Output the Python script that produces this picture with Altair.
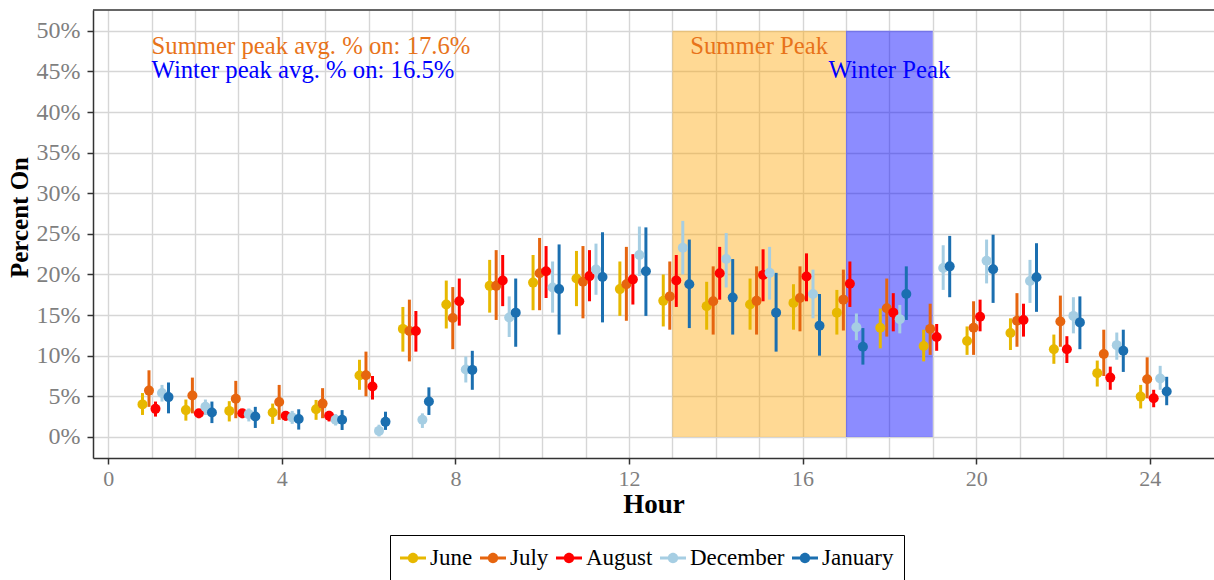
import altair as alt
import pandas as pd

# Hour of day (hour-ending) for each observation
HOURS = list(range(1, 25))
MONTHS = ["June", "July", "August", "December", "January"]

# Mean percent of units on, with lower / upper interval bounds, per hour
JUNE_MEAN = [4.0, 3.3, 3.2, 3.0, 3.4, 7.55, 13.3, 16.3, 18.6, 19.0, 19.5, 18.2,
             16.75, 16.1, 16.3, 16.5, 15.3, 13.45, 11.2, 11.8, 12.8, 10.8, 7.85, 4.96]
JUNE_LO = [2.7, 2.0, 1.9, 1.6, 2.1, 5.8, 10.5, 13.35, 15.3, 15.6, 16.1, 14.9,
           13.6, 13.2, 13.2, 13.2, 12.6, 10.9, 9.3, 10.1, 10.7, 9.0, 6.2, 3.5]
JUNE_HI = [5.4, 4.6, 4.4, 4.1, 4.55, 9.5, 16.0, 19.25, 21.8, 22.4, 22.9, 21.6,
           20.0, 19.1, 19.5, 18.8, 18.1, 15.8, 13.2, 13.6, 14.6, 12.6, 9.4, 6.4]

JULY_MEAN = [5.7, 5.1, 4.7, 4.3, 4.1, 7.6, 13.05, 14.65, 18.6, 20.15, 19.1, 18.8,
             17.3, 16.7, 16.75, 17.1, 16.9, 15.85, 13.3, 13.45, 14.3, 14.2, 10.2, 7.1]
JULY_LO = [3.7, 2.9, 2.3, 2.1, 2.3, 5.0, 9.3, 10.8, 14.4, 15.6, 14.6, 14.3,
           13.2, 12.6, 12.6, 13.0, 13.1, 12.35, 10.1, 10.1, 11.1, 11.1, 7.5, 4.75]
JULY_HI = [8.2, 7.3, 6.9, 6.4, 6.0, 10.5, 16.9, 18.45, 23.0, 24.5, 23.5, 23.4,
           21.6, 21.0, 21.0, 21.0, 20.6, 19.5, 16.4, 16.7, 17.7, 17.4, 13.2, 9.8]

AUGUST_MEAN = [3.45, 2.9, 2.9, 2.6, 2.6, 6.2, 13.05, 16.7, 19.25, 20.4, 19.8, 19.4,
               19.25, 20.15, 19.95, 19.75, 18.85, 15.3, 12.3, 14.8, 14.4, 10.8, 7.3, 4.75]
AUGUST_LO = [2.5, 2.3, 2.3, 2.0, 1.9, 4.6, 10.5, 13.7, 16.1, 17.1, 16.7, 16.3,
             16.0, 16.9, 16.7, 16.7, 16.0, 13.0, 10.6, 13.0, 12.35, 9.1, 5.8, 3.65]
AUGUST_HI = [4.35, 3.4, 3.3, 3.1, 3.2, 7.5, 15.5, 19.5, 22.4, 23.5, 23.0, 22.5,
             22.4, 23.4, 23.1, 22.6, 21.6, 17.7, 13.9, 16.9, 16.4, 12.4, 8.65, 5.8]

DECEMBER_MEAN = [5.4, 3.7, 2.8, 2.4, 2.1, 0.74, 2.1, 8.3, 14.7, 18.4, 20.6, 22.4,
                 23.3, 21.9, 20.2, 17.6, 13.5, 14.5, 20.8, 21.7, 19.2, 14.9, 11.3, 7.2]
DECEMBER_LO = [4.35, 2.7, 1.9, 1.6, 1.4, 0.05, 1.1, 6.7, 12.3, 15.3, 17.5, 19.8,
               20.0, 18.4, 16.9, 14.6, 11.9, 12.75, 18.1, 18.9, 16.5, 12.75, 9.5, 5.8]
DECEMBER_HI = [6.4, 4.6, 3.5, 3.2, 2.8, 1.5, 2.9, 9.9, 17.3, 21.6, 23.8, 25.9,
               26.6, 25.1, 23.4, 20.6, 15.2, 16.25, 23.6, 24.3, 21.8, 17.2, 12.85, 8.75]

JANUARY_MEAN = [4.9, 3.0, 2.5, 2.2, 2.1, 1.85, 4.35, 8.25, 15.3, 18.2, 19.7, 20.4,
                18.8, 17.15, 15.3, 13.7, 11.1, 17.6, 21.0, 20.65, 19.65, 14.1, 10.6, 5.6]
JANUARY_LO = [2.9, 1.7, 1.1, 0.9, 0.85, 0.86, 2.7, 5.8, 11.1, 12.6, 14.1, 14.9,
              13.4, 12.6, 10.5, 10.0, 8.9, 14.4, 17.2, 16.5, 15.4, 10.8, 8.0, 3.9]
JANUARY_HI = [6.7, 4.35, 3.7, 3.4, 3.3, 3.1, 6.1, 10.6, 19.5, 23.7, 25.2, 25.8,
              24.3, 21.9, 20.2, 17.6, 13.4, 21.0, 24.75, 24.9, 23.85, 17.3, 13.2, 7.4]

# Peak windows (hours) shaded on the chart
PEAK_NAMES = ["Summer Peak", "Winter Peak"]
PEAK_START = [13, 17]
PEAK_END = [17, 19]

SUMMER_NOTE = "Summer peak avg. % on: 17.6%"
WINTER_NOTE = "Winter peak avg. % on: 16.5%"

# ---- styling -------------------------------------------------------------
FONT = "Liberation Serif"
COLORS = ["#E7B800", "#E6650F", "#FF0000", "#A6CEE3", "#1B6FB0"]
SUMMER_TEXT = "#E8731A"
WINTER_TEXT = "#0000FF"
DODGE = {"June": -0.21, "July": -0.06, "August": 0.09,
         "December": 0.24, "January": 0.39}
W, H = 1121, 448
X_DOMAIN = [-0.35, 25.48]
Y_DOMAIN = [-2.6, 52.57]
# legend key: a short bar with a dot on it
KEY_PATH = ("M-1,-0.12L1,-0.12L1,0.12L-1,0.12Z"
            "M0.4,0A0.4,0.4,0,1,1,-0.4,0A0.4,0.4,0,1,1,0.4,0Z")

series = {
    "June": (JUNE_MEAN, JUNE_LO, JUNE_HI),
    "July": (JULY_MEAN, JULY_LO, JULY_HI),
    "August": (AUGUST_MEAN, AUGUST_LO, AUGUST_HI),
    "December": (DECEMBER_MEAN, DECEMBER_LO, DECEMBER_HI),
    "January": (JANUARY_MEAN, JANUARY_LO, JANUARY_HI),
}
month_color = dict(zip(MONTHS, COLORS))
rows = []
for m in MONTHS:
    mean, lo, hi = series[m]
    for h, v, a, b in zip(HOURS, mean, lo, hi):
        rows.append({"month": m, "hour": h, "pos": h + DODGE[m],
                     "mean": v, "lo": a, "hi": b, "col": month_color[m]})
df = pd.DataFrame(rows)

peaks = pd.DataFrame({"name": PEAK_NAMES, "start": PEAK_START, "end": PEAK_END,
                      "bottom": [0, 0], "top": [50, 50]})

xs = alt.Scale(domain=X_DOMAIN, nice=False, zero=False)
ys = alt.Scale(domain=Y_DOMAIN, nice=False, zero=False)

x_axis = alt.Axis(
    values=list(range(0, 25)), title="Hour",
    labelExpr="datum.value % 4 === 0 ? datum.label : ''",
    tickOpacity={"condition": {"test": "datum.value % 4 === 0", "value": 1}, "value": 0},
    labelOverlap=False, grid=True,
)
y_axis = alt.Axis(values=list(range(0, 55, 5)), title="Percent On",
                  labelExpr="datum.value + '%'", grid=True, titleY=207)

peak_base = alt.Chart(peaks).encode(
    x=alt.X("start:Q", scale=xs, axis=x_axis),
    x2="end:Q",
    y=alt.Y("bottom:Q", scale=ys, axis=y_axis),
    y2="top:Q",
)
summer = peak_base.transform_filter(alt.datum.name == "Summer Peak").mark_rect(
    color="#FFA500", opacity=0.42)
winter = peak_base.transform_filter(alt.datum.name == "Winter Peak").mark_rect(
    color="#0000FF", opacity=0.45)

legend = alt.Legend(
    orient="none", legendX=297, legendY=525, direction="horizontal", title=None,
    labelFont=FONT, labelFontSize=23, labelColor="black",
    symbolType=KEY_PATH, symbolSize=676, symbolStrokeWidth=0, symbolOpacity=1,
    strokeColor="black", fillColor="white", padding=10,
    columnPadding=7, labelOffset=4,
)

# interval bars take their colour straight from the table (no scale, no legend)
bars = alt.Chart(df).mark_rule(strokeWidth=3).encode(
    x=alt.X("pos:Q", scale=xs),
    y=alt.Y("lo:Q", scale=ys),
    y2="hi:Q",
    stroke=alt.Stroke("col:N", scale=None),
)
points = alt.Chart(df).mark_point(filled=True, size=100, opacity=1).encode(
    x=alt.X("pos:Q", scale=xs),
    y=alt.Y("mean:Q", scale=ys),
    color=alt.Color("month:N", scale=alt.Scale(domain=MONTHS, range=COLORS),
                    sort=MONTHS, legend=legend),
)

notes = pd.DataFrame({"label": [SUMMER_NOTE, WINTER_NOTE], "x": [1, 1], "y": [48, 45],
                      "kind": ["summer", "winter"]})
peak_labels = pd.DataFrame({"label": PEAK_NAMES, "x": [15, 18], "y": [48, 45],
                            "kind": ["summer", "winter"]})


def text_layer(frame, kind, col, align):
    return alt.Chart(frame).transform_filter(alt.datum.kind == kind).mark_text(
        font=FONT, fontSize=24.7, align=align, baseline="middle", color=col
    ).encode(x=alt.X("x:Q", scale=xs), y=alt.Y("y:Q", scale=ys), text="label:N")


texts = [
    text_layer(notes, "summer", SUMMER_TEXT, "left"),
    text_layer(notes, "winter", WINTER_TEXT, "left"),
    text_layer(peak_labels, "summer", SUMMER_TEXT, "center"),
    text_layer(peak_labels, "winter", WINTER_TEXT, "center"),
]

# upper frame line of the panel
frame_top = alt.Chart(pd.DataFrame({"k": [0]})).mark_rule(
    color="#333333", strokeWidth=1.5
).encode(x=alt.value(0), x2=alt.value(W), y=alt.value(0))

chart = alt.layer(summer, winter, bars, points, *texts, frame_top).properties(
    width=W, height=H,
    autosize=alt.AutoSizeParams(type="none"),
    padding={"left": 93, "top": 10, "right": 0, "bottom": 122},
    background="white",
).configure_view(strokeWidth=0, strokeOpacity=0).configure_axis(
    labelFont=FONT, labelFontSize=24, labelColor="#7f7f7f",
    titleFont=FONT, titleFontWeight="bold", titleColor="black",
    gridColor="#d6d6d6", gridWidth=1.4,
    domainColor="#333333", domainWidth=1.5,
    tickColor="#333333", tickWidth=1.5, tickSize=6,
    labelPadding=7,
).configure_axisX(
    titleFontSize=27, titlePadding=2, labelFontSize=22, labelPadding=4,
).configure_axisY(
    titleFontSize=25, titlePadding=4,
)

chart.save("out.html", embed_options={"renderer": "svg", "actions": False})
